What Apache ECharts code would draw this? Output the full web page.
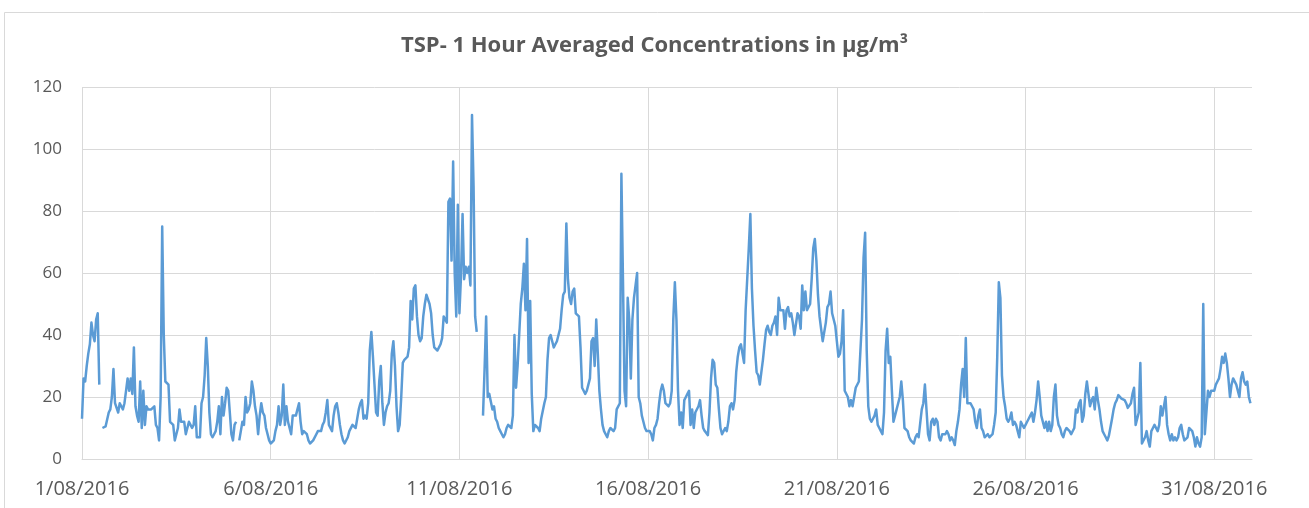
<!DOCTYPE html>
<html><head><meta charset="utf-8">
<script src="https://cdn.jsdelivr.net/npm/echarts@6/dist/echarts.min.js"></script>
<style>html,body{margin:0;padding:0;background:#fff}#c{width:1309px;height:508px}</style>
</head><body><div id="c"></div>
<script>
const titleText = 'TSP- 1 Hour Averaged Concentrations in µg/m³';
const dateLabels = ['1/08/2016','6/08/2016','11/08/2016','16/08/2016','21/08/2016','26/08/2016','31/08/2016'];
// hourly TSP values (µg/m³), one array per day, hours 0..23; null = missing
const d01 = [13,26,25,30,34,37,44,40,38,45,47,24,null,10,10,10.5,11,15,16,20,29,18,18,15];
const d02 = [18,17,16,18,22,26,22,26,21,36,17,14,12,25,10,22,11,17,16,16,16,16,17,11];
const d03 = [10,6,20,75,40,25,25,24,12,12,11,6,6,10,16,12,12,12,8,8,12,11,10,11];
const d04 = [17,7,7,7,18,20,27,39,30,15,8,7,8,9,12,17,8,20,14,18,23,22,15,8];
const d05 = [6,11,12,null,6,9,12,11,20,15,16,18,25,22,17,14,8,14,18,15,14,10,10,6];
const d06 = [5,4.5,6,9,11,17,11,14,24,11,17,12,12,8,14,14,14,16,18,12,8,9,9,8];
const d07 = [6,5,4.5,6,6,8,9,9,9,11,12,15,19,11,11,9,14,17,18,15,11,8,6,5];
const d08 = [5,7,9,9,11,11,10,13,16,18,19,13,14,13,18,35,41,33,24,15,14,25,30,18];
const d09 = [11,15,17,18,22,34,38,30,17,9,11,20,31,32,32,33,36,51,45,55,56,46,40,38];
const d10 = [39,46,50,53,53,50,47,40,36,36,35,36,37,39,46,46,44,83,84,64,96,60,46,82];
const d11 = [47,59,79,58,62,60,62,56,111,88,46,41,null,null,null,14,29,46,20,21,21,16,17,13];
const d12 = [12,10,9,8,7,8,10,11,11,10,14,40,23,30,40,50,55,63,48,71,31,51,21,9];
const d13 = [11,11,10,9,13,13,18,20,32,39,40,38,36,37,38,38,42,48,53,54,76,58,52,50];
const d14 = [54,55,47,47,46,36,23,22,21,22,24,26,38,39,30,45,34,22,16,11,9,8,7,9];
const d15 = [10,10,9,10,16,16,18,92,58,22,17,52,45,26,45,52,56,60,20,18,14,12,10,9];
const d16 = [9,9,8,6,10,11,13,18,22,24,22,18,18,17,18,22,45,57,45,22,11,15,10,19];
const d17 = [20,21,22,11,16,10,15,15,17,19,14,10,9,8.5,7.7,15,26,32,31,24,23,16,10,8];
const d18 = [8,10,9,12,17,18,16,19,28,33,36,37,37,31,48,58,68,79,55,43,35,28,27,24];
const d19 = [28,32,37,41.6,43,41,40,43,44,46,40,52,48,48,48,42,48,49,46,47,44,40,40,47];
const d20 = [46,42,56,48,54,48,48,50,58,68,71,64,53,46,42,38,38,44,49,50,54,47,45,43];
const d21 = [38,33,34,38,48,22,22,20,17,19,17,20,23,23,25,35,45,65,73,35,17,13,12,12];
const d22 = [14,16,11,10,9,8,15,35,42,31,33,22,12,14,16,18,20,25,19,10,10,9,7,6];
const d23 = [6,5,7,8,7,7,16,18,24,16,8,6,12,13,11,13,12,7,6,8,8,8,9,8];
const d24 = [6,7,6,4.5,9,12,16,24,29,20,39,18,18,18,17,16,12,10,14,16,10,9,7,7];
const d25 = [8,7,7,8,11,15,33,57,52,27,20,17,13,12,13,15,11,12,11,9,7,12,12,10];
const d26 = [11,12,13,14,15,12,15,19,25,20,14,14,10,12,9,12,9,11,20,24,14,11,10,8];
const d27 = [7,9,10,10,9,8,8,10,16,15,18,19,12,14,21,25,25,17,19,20,16,23,19,16];
const d28 = [12,9,8,7,6,7.5,8,13,16,18,19,20.6,20.6,19.5,19,19,18,16.5,16,18,21,23,11,11];
const d29 = [15,31,5,5,7,9,6,4,9,10,11,10,9,11,17,14,14,20,11,8,6,8,6,7];
const d30 = [6,7,10,11,8,6,6,7,10,10,9,7,4,7,5,4,7,50,8,8,22,20,22,22];
const d31 = [22,24,25,26,29,33,31,34,31,26,20,24,26,26,24,24,20,26,28,25,24,25,20,18];

const days = [d01,d02,d03,d04,d05,d06,d07,d08,d09,d10,d11,d12,d13,d14,d15,d16,d17,d18,d19,d20,d21,d22,d23,d24,d25,d26,d27,d28,d29,d30,d31];
const hourly = [].concat(...days);
const seriesData = hourly.map((v, i) => [i, v == null ? '-' : v]);

const FONT = 'Open Sans';
const chart = echarts.init(document.getElementById('c'), null, {renderer: 'canvas'});
chart.setOption({
  animation: false,
  backgroundColor: '#ffffff',
  graphic: [{
    type: 'rect', silent: true, z: -10,
    shape: {x: 4.5, y: 12.5, width: 1330, height: 520},
    style: {fill: 'none', stroke: '#d9d9d9', lineWidth: 1}
  }],
  title: {
    text: titleText, left: 'center', top: 30,
    textStyle: {fontFamily: FONT, fontWeight: 'bold', fontSize: 22, color: '#595959'}
  },
  grid: {left: 82, right: 57, top: 87, bottom: 49},
  xAxis: {
    type: 'value', min: 0, max: 744, interval: 120,
    axisLine: {show: true, onZero: false, lineStyle: {color: '#d9d9d9', width: 1}},
    axisTick: {show: false},
    axisLabel: {
      color: '#595959', fontFamily: FONT, fontSize: 20, margin: 20,
      showMaxLabel: false,
      formatter: v => (v % 120 === 0 && dateLabels[v / 120]) ? dateLabels[v / 120] : ''
    },
    splitLine: {show: true, showMaxLine: false, lineStyle: {color: '#d9d9d9', width: 1}}
  },
  yAxis: {
    type: 'value', min: 0, max: 120, interval: 20,
    axisLine: {show: false}, axisTick: {show: false},
    axisLabel: {color: '#595959', fontFamily: FONT, fontSize: 17, margin: 20},
    splitLine: {show: true, lineStyle: {color: '#d9d9d9', width: 1}}
  },
  series: [{
    type: 'line', data: seriesData, showSymbol: false, connectNulls: false,
    sampling: null,
    lineStyle: {color: '#5b9bd5', width: 2.5, join: 'round'},
    itemStyle: {color: '#5b9bd5'}
  }]
});
</script></body></html>
